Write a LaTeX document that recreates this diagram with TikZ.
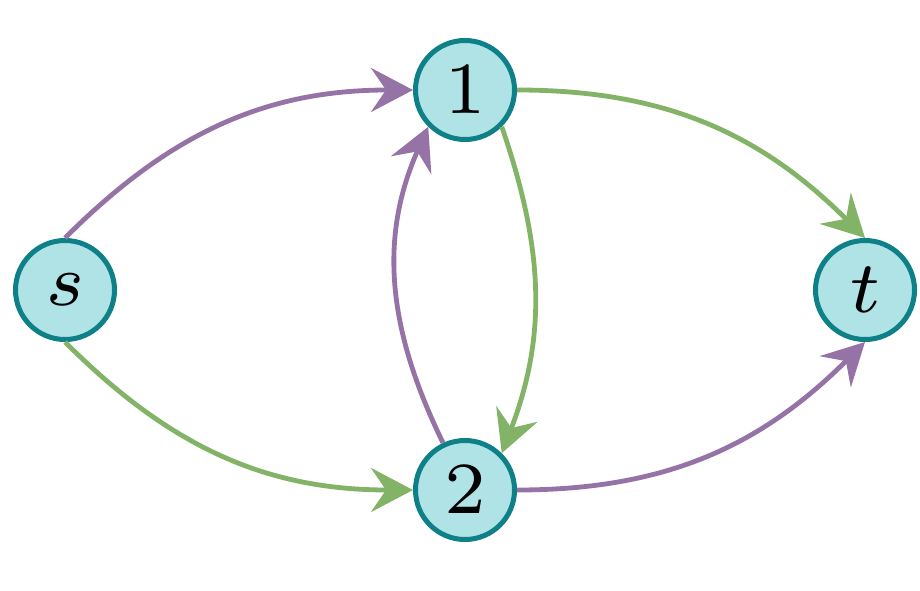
\documentclass[tikz,border=0pt]{standalone}
\usepackage{graphicx}
\usetikzlibrary{arrows.meta}
\definecolor{nfill}{HTML}{B0E3E6}
\definecolor{ndraw}{HTML}{0E8088}
\definecolor{epur}{HTML}{9673A6}
\definecolor{egrn}{HTML}{82B366}
\newcommand{\biglab}[1]{\scalebox{10.5}{$\scriptstyle #1$}}
\tikzset{
  vert/.style={circle, draw=ndraw, fill=nfill, line width=5pt, minimum size=99pt, inner sep=0pt},
  edge/.style={line width=4.8pt, -{Stealth[length=42pt,width=44pt,inset=15pt]}},
  pur/.style={edge, draw=epur},
  grn/.style={edge, draw=egrn}
}
\begin{document}
\begin{tikzpicture}[x=1pt,y=1pt]
\useasboundingbox (0,0) rectangle (920,590);
\node[vert] (s) at (65,300) {\biglab{s}};
\node[vert] (n1) at (465,500) {\biglab{1}};
\node[vert] (n2) at (465,100) {\biglab{2}};
\node[vert] (t) at (865,300) {\biglab{t}};
\draw[pur] (s.north) to[out=45,in=180] (n1.west);
\draw[grn] (s.south) to[out=-45,in=180] (n2.west);
\draw[grn] (n1.east) to[out=0,in=135] (t.north);
\draw[pur] (n2.east) to[out=0,in=-135] (t.south);
\draw[grn] (n1.south east) to[out=-71,in=69] (n2.north east);
\draw[pur] (n2.115) to[out=116,in=-114] (n1.south west);
\end{tikzpicture}
\end{document}
